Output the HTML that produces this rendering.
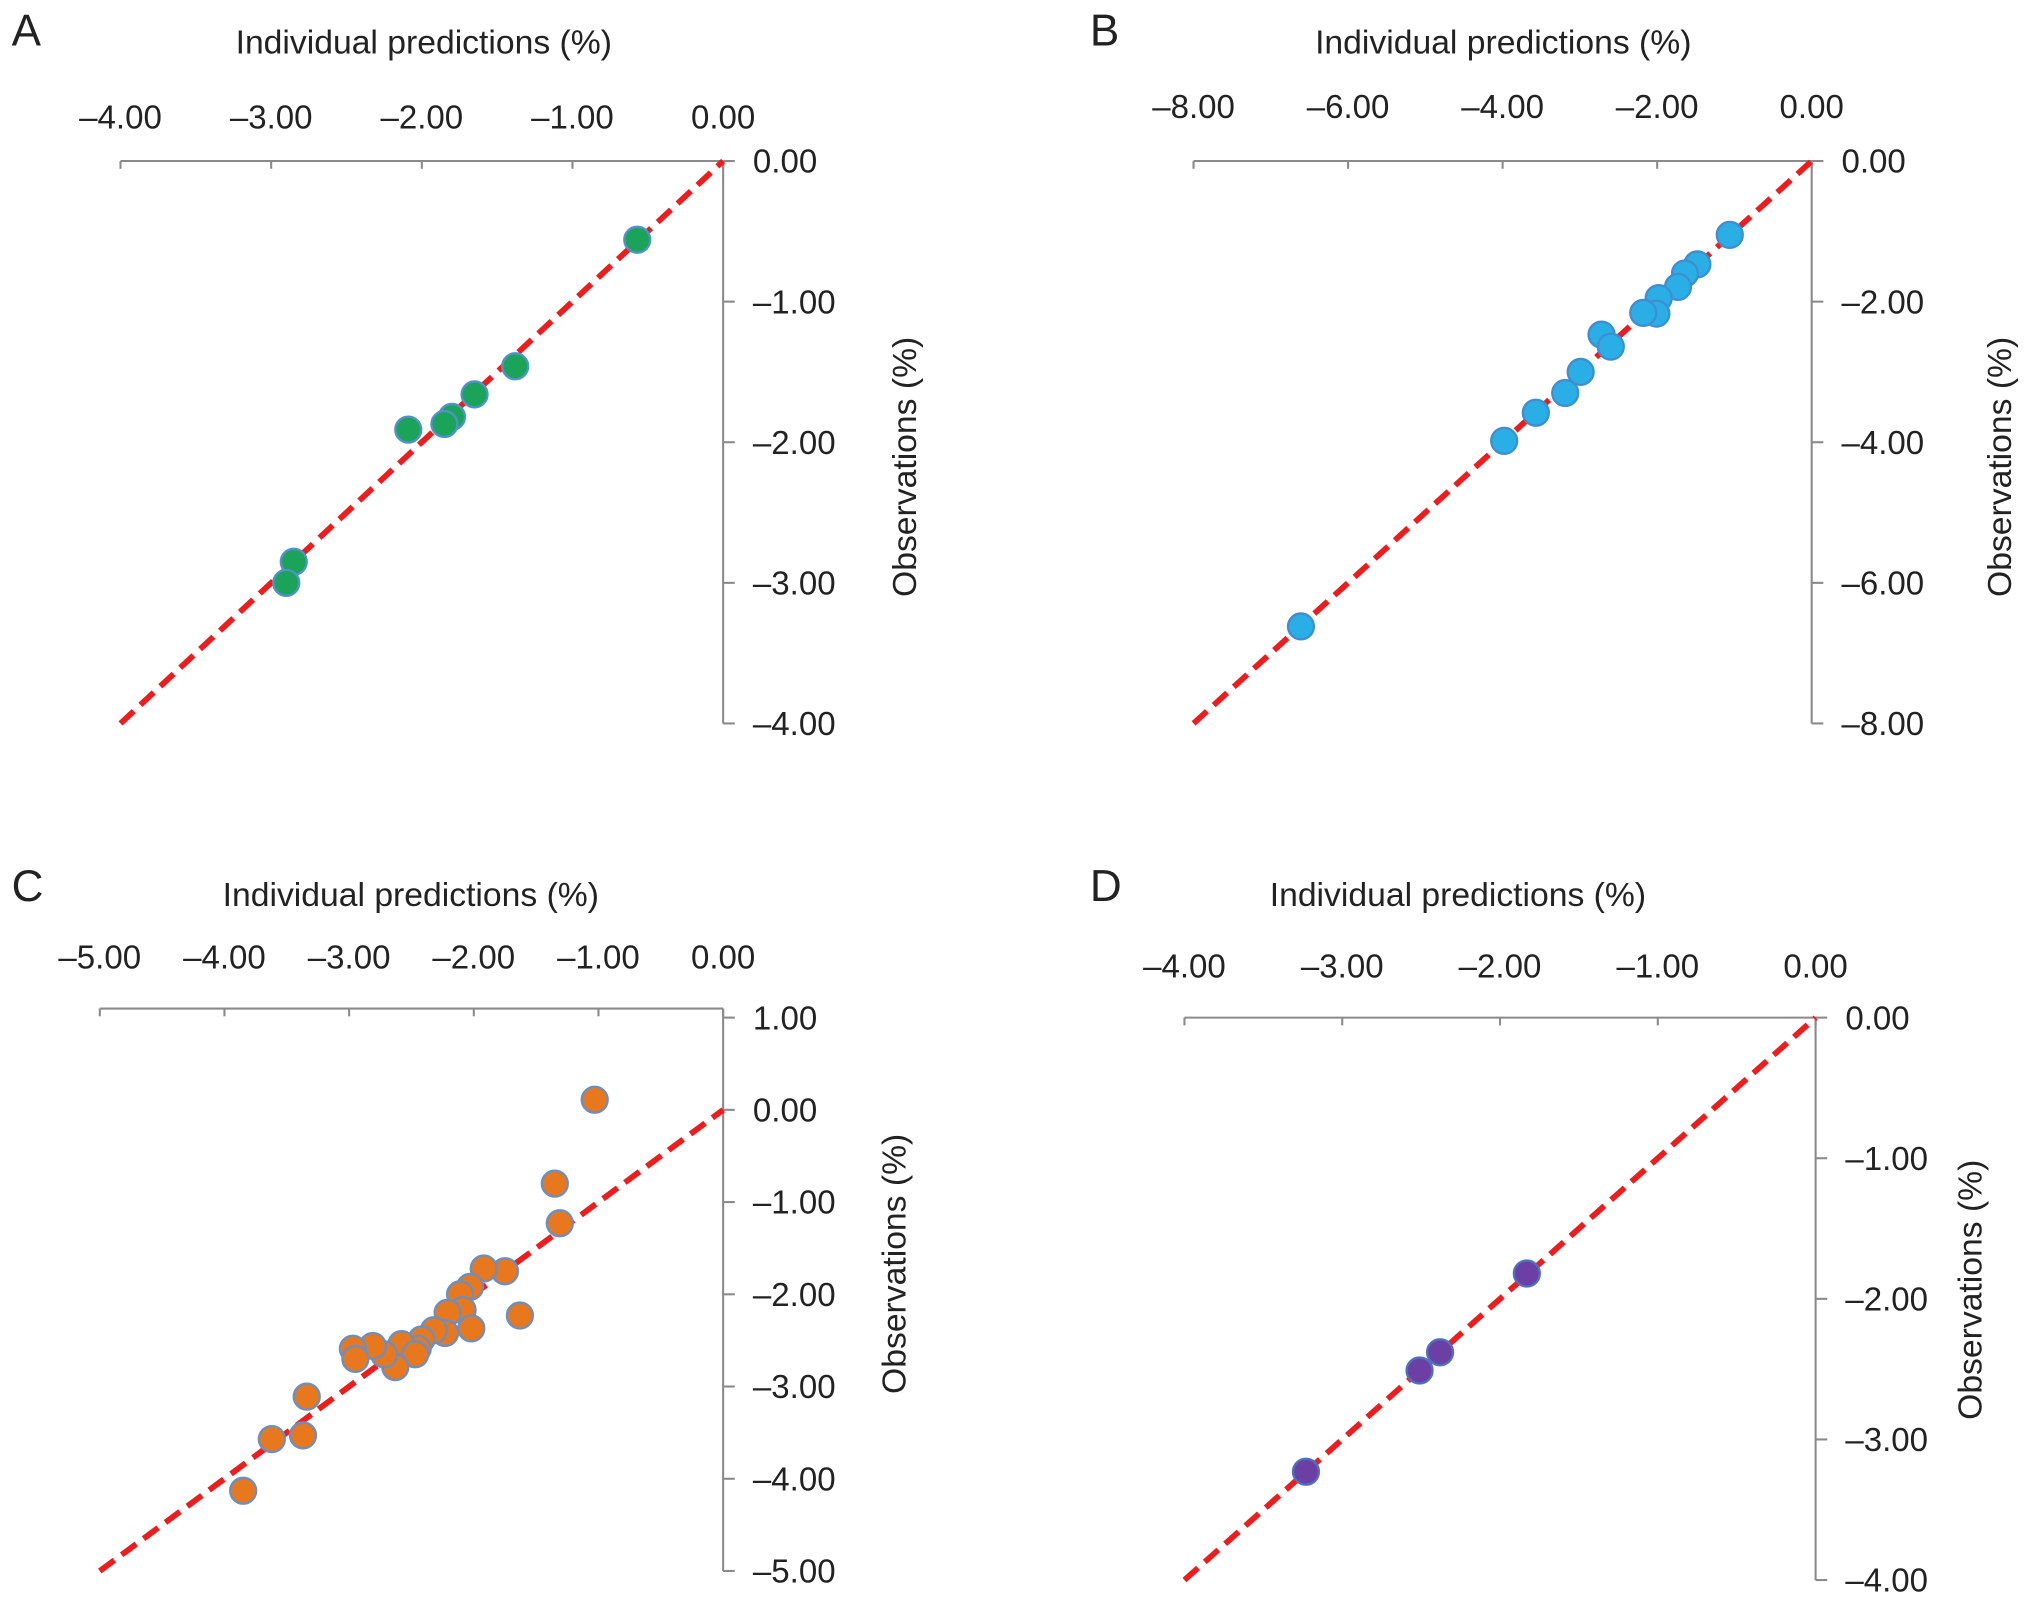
<!DOCTYPE html>
<html><head><meta charset="utf-8"><style>
html,body{margin:0;padding:0;background:#fff;}
svg{display:block;}
text{font-family:"Liberation Sans",sans-serif;fill:#222;}
</style></head><body>
<svg id="chart" width="2032" height="1605" viewBox="0 0 1568 1238" xmlns="http://www.w3.org/2000/svg"></svg>
<script>
const ticksA = [-4,-3,-2,-1,0];
const yTicksA = [0,-1,-2,-3,-4];
const predA = [-0.57,-1.38,-1.65,-1.80,-1.85,-2.09,-2.85,-2.90];
const obsA  = [-0.56,-1.46,-1.66,-1.82,-1.87,-1.91,-2.85,-3.00];

const ticksB = [-8,-6,-4,-2,0];
const yTicksB = [0,-2,-4,-6,-8];
const predB = [-1.06,-1.48,-1.64,-1.73,-1.98,-2.01,-2.18,-2.72,-2.60,-2.99,-3.19,-3.57,-3.98,-6.61];
const obsB  = [-1.05,-1.47,-1.60,-1.79,-1.95,-2.17,-2.16,-2.47,-2.64,-3.00,-3.30,-3.58,-3.98,-6.62];

const ticksC = [-5,-4,-3,-2,-1,0];
const yTicksC = [1,0,-1,-2,-3,-4,-5];
const predC = [-1.03,-1.35,-1.31,-1.75,-1.92,-1.63,-2.03,-2.11,-2.09,-2.21,-2.02,-2.23,-2.32,-2.42,-2.45,-2.58,-2.47,-2.63,-2.72,-2.81,-2.97,-2.95,-3.34,-3.62,-3.37,-3.85];
const obsC  = [0.11,-0.80,-1.23,-1.75,-1.72,-2.23,-1.92,-2.00,-2.17,-2.20,-2.37,-2.42,-2.39,-2.49,-2.59,-2.54,-2.65,-2.79,-2.65,-2.56,-2.59,-2.70,-3.11,-3.57,-3.53,-4.13];

const ticksD = [-4,-3,-2,-1,0];
const yTicksD = [0,-1,-2,-3,-4];
const predD = [-1.83,-2.38,-2.51,-3.23];
const obsD  = [-1.82,-2.38,-2.51,-3.23];

const NS='http://www.w3.org/2000/svg';
const svg=document.getElementById('chart');
function mk(tag,attrs,parent){const e=document.createElementNS(NS,tag);for(const k in attrs)e.setAttribute(k,attrs[k]);(parent||svg).appendChild(e);return e;}

const panels=[
 {id:'a',letter:'A',lx:9,ly:35,x0:93,x1:558,xmin:-4,xaxisY:124,yTop:124,yBot:558,ymax:0,ymin:-4,ticks:ticksA,yt:yTicksA,px:predA,py:obsA,tlY:99,titleX:327,titleY:41,obsX:700,obsY:360,fill:'#1ca35a',stroke:'#4f93c8'},
 {id:'b',letter:'B',lx:841,ly:35,x0:921,x1:1398,xmin:-8,xaxisY:124,yTop:124,yBot:558,ymax:0,ymin:-8,ticks:ticksB,yt:yTicksB,px:predB,py:obsB,tlY:91,titleX:1160,titleY:41,obsX:1545,obsY:360,fill:'#2aaee6',stroke:'#3f8fd0'},
 {id:'c',letter:'C',lx:9,ly:695,x0:77,x1:558,xmin:-5,xaxisY:778,yTop:785,yBot:1212,ymax:1,ymin:-5,ticks:ticksC,yt:yTicksC,px:predC,py:obsC,tlY:747,titleX:317,titleY:699,obsX:692,obsY:975,fill:'#e8781e',stroke:'#6a8fc2'},
 {id:'d',letter:'D',lx:841,ly:695,x0:914,x1:1401,xmin:-4,xaxisY:785,yTop:785,yBot:1219,ymax:0,ymin:-4,ticks:ticksD,yt:yTicksD,px:predD,py:obsD,tlY:754,titleX:1125,titleY:699,obsX:1522,obsY:995,fill:'#6b3fa3',stroke:'#4f6fc0'}
];

panels.forEach(p=>{
  const g=mk('g',{});
  
  
  const X=v=>p.x0+(v-p.xmin)/(0-p.xmin)*(p.x1-p.x0);
  const Y=v=>p.yTop+(p.ymax-v)/(p.ymax-p.ymin)*(p.yBot-p.yTop);
  const L=mk('text',{x:p.lx,y:p.ly,'font-size':34},g);L.textContent=p.letter;
  
  
  const t=mk('text',{x:p.titleX,y:p.titleY,'font-size':26,'text-anchor':'middle'},g);t.textContent='Individual predictions (%)';
  
  
  const o=mk('text',{x:p.obsX,y:p.obsY,'font-size':26,'text-anchor':'middle',transform:`rotate(-90 ${p.obsX} ${p.obsY})`,'dominant-baseline':'middle'},g);o.textContent='Observations (%)';
  
  
  const xa=mk('line',{x1:p.x0,x2:p.x1,y1:p.xaxisY,y2:p.xaxisY,stroke:'#8a8a8a','stroke-width':1.6},g);
  
  
  const ya=mk('line',{x1:p.x1,x2:p.x1,y1:p.xaxisY,y2:p.yBot,stroke:'#8a8a8a','stroke-width':1.6},g);
  
  
  p.ticks.forEach(v=>{
    mk('line',{x1:X(v),x2:X(v),y1:p.xaxisY,y2:p.xaxisY+6,stroke:'#8a8a8a','stroke-width':1.6},g);
    const tl=mk('text',{x:X(v),y:p.tlY,'font-size':25.5,'text-anchor':'middle'},g);
    tl.textContent=(v<0?'\u2013':'')+Math.abs(v).toFixed(2);
    
    
  });
  p.yt.forEach(v=>{
    mk('line',{x1:p.x1,x2:p.x1+9,y1:Y(v),y2:Y(v),stroke:'#8a8a8a','stroke-width':1.6},g);
    const tl=mk('text',{x:p.x1+23,y:Y(v)+9,'font-size':25.5},g);
    tl.textContent=(v<0?'\u2013':'')+Math.abs(v).toFixed(2);
    
    
  });
  const ln=mk('line',{x1:X(p.xmin),y1:Y(p.xmin),x2:X(0),y2:Y(0),stroke:'#ee1c1c','stroke-width':4.5,'stroke-dasharray':'14 7'},g);
  
  
  p.px.forEach((v,i)=>{
    const c=mk('circle',{cx:X(v),cy:Y(p.py[i]),r:10,fill:p.fill,stroke:p.stroke,'stroke-width':1.8},g);
    
    
  });
});
</script>
</body></html>
